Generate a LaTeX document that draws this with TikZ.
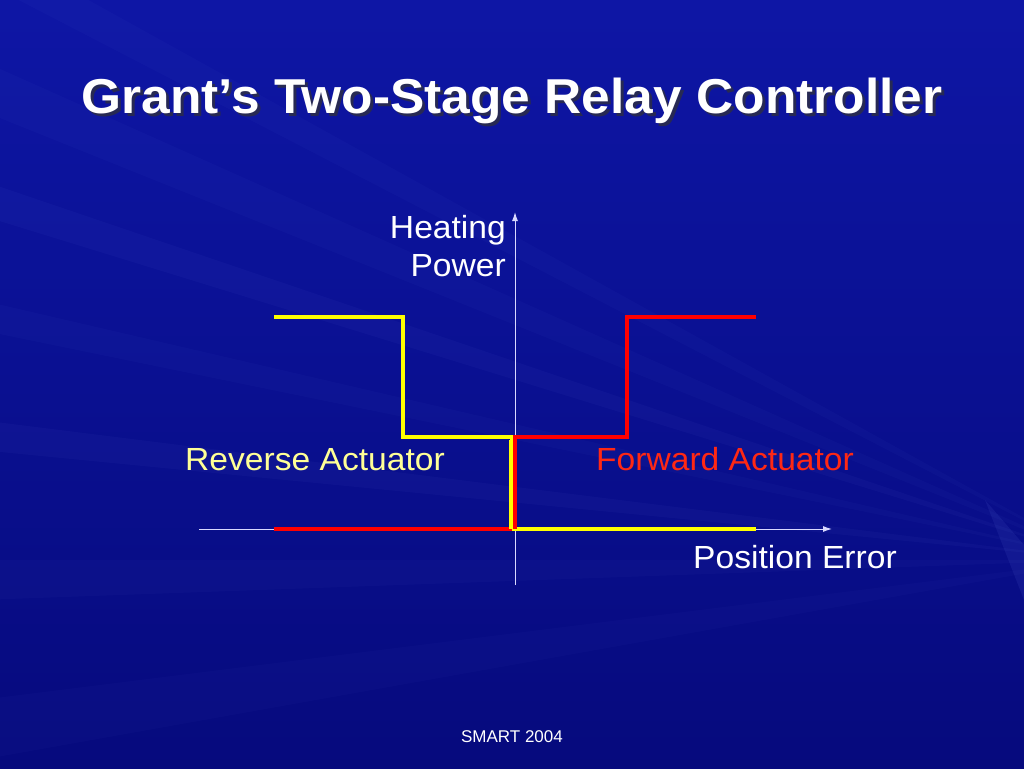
\documentclass[tikz,border=0pt]{standalone}
\usepackage{fontspec}
\usetikzlibrary{arrows.meta}
\setmainfont{Liberation Sans}
\definecolor{slidetop}{RGB}{14,22,165}
\definecolor{slidebot}{RGB}{6,10,125}
\definecolor{raycol}{RGB}{110,130,235}
\definecolor{revyellow}{RGB}{255,255,0}
\definecolor{revtext}{RGB}{255,255,150}
\definecolor{fwdred}{RGB}{255,0,0}
\definecolor{fwdtext}{RGB}{255,40,20}
\tikzstyle{axis}=[draw=white!85!blue,line width=1pt]
\tikzstyle{relay}=[line width=3.5pt,line join=miter]
\tikzstyle{label}=[font=\fontsize{32}{36}\selectfont,inner sep=0pt]
\newcommand{\wide}[1]{\scalebox{1.05}[1]{#1}}

\begin{document}
\begin{tikzpicture}[>={Latex[length=9pt,width=6pt]},x=1pt,y=-1pt]
	\useasboundingbox (0,0) rectangle (1024,768);
	\shade[top color=slidetop,bottom color=slidebot] (0,0) rectangle (1024,768);
	% faint rays
	\foreach \ya/\yb/\op in {-60/-20/0.04, 60/110/0.04, 180/215/0.05, 300/330/0.04, 420/450/0.05, 560/600/0.04, 700/760/0.03}
		\fill[raycol,opacity=\op] (1100,560) -- (-20,\ya) -- (-20,\yb) -- cycle;
	\fill[raycol,opacity=0.10] (985,500) -- (1024,545) -- (1024,600) -- cycle;

	% Title
	\node[font=\fontsize{49}{54}\selectfont\bfseries,text=black!80,opacity=0.7,anchor=base] (shadow) at (515,116) {\wide{Grant’s Two-Stage Relay Controller}};
	\node[font=\fontsize{49}{54}\selectfont\bfseries,text=white,anchor=base] (title) at (512,113) {\wide{Grant’s Two-Stage Relay Controller}};

	% Axes
	\coordinate (xs) at (199,529);
	\coordinate (xe) at (832,529);
	\coordinate (ys) at (515,585);
	\coordinate (ye) at (515,212);
	\draw[axis,->] (xs) -- (xe);
	\draw[axis,->] (ys) -- (ye);

	% Reverse actuator (yellow)
	\draw[relay,revyellow] (274,317) -- (403,317) -- (403,437) -- (512,437) -- (512,529) -- (756,529);
	% Forward actuator (red)
	\draw[relay,fwdred] (274,529) -- (512,529);
	\draw[relay,fwdred] (515,529) -- (515,437) -- (627,437) -- (627,317) -- (756,317);
	\draw[relay,revyellow] (511,440) -- (511,529);

	% Labels
	\node[label,text=white,anchor=base east] (heating) at (506,238) {\wide{Heating}};
	\node[label,text=white,anchor=base east] (power) at (506,276) {\wide{Power}};
	\node[label,text=revtext,anchor=base west] (reverse) at (185,470) {\wide{Reverse Actuator}};
	\node[label,text=fwdtext,anchor=base west] (forward) at (596,470) {\wide{Forward Actuator}};
	\node[label,text=white,anchor=base west] (error) at (693,568) {\wide{Position Error}};

	\node[font=\fontsize{17}{20}\selectfont,text=white,anchor=base] (footer) at (512,742) {SMART 2004};
\end{tikzpicture}
\end{document}
